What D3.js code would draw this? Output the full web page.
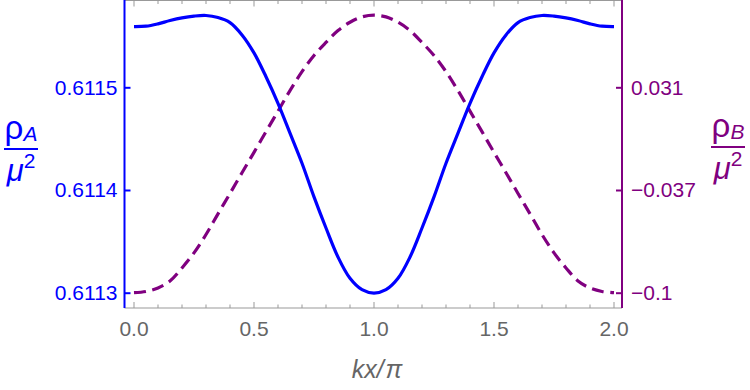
<!DOCTYPE html>
<html>
<head>
<meta charset="utf-8">
<script src="https://cdn.jsdelivr.net/npm/d3@7"></script>
<style>
  body { margin: 0; background: #fff; }
  svg { display: block; font-family: "Liberation Sans", Arial, sans-serif; }
</style>
</head>
<body>
<svg id="chart" width="750" height="390"></svg>
<script>
// kx/pi sample points
const kx = [0.0, 0.05, 0.1, 0.15, 0.2, 0.25, 0.3, 0.35, 0.4, 0.45, 0.5,
            0.55, 0.6, 0.65, 0.7, 0.75, 0.8, 0.85, 0.9, 0.95, 1.0,
            1.05, 1.1, 1.15, 1.2, 1.25, 1.3, 1.35, 1.4, 1.45, 1.5,
            1.55, 1.6, 1.65, 1.7, 1.75, 1.8, 1.85, 1.9, 1.95, 2.0];
// rho_A / mu^2 (solid blue, left axis)
const rhoA = [0.6115591, 0.6115595, 0.6115618, 0.6115650, 0.6115676, 0.6115693, 0.6115699,
              0.6115679, 0.6115630, 0.6115510, 0.6115335, 0.6115103, 0.6114844, 0.6114554,
              0.6114261, 0.6113933, 0.6113630, 0.6113347, 0.6113140, 0.6113029, 0.6112996,
              0.6113029, 0.6113140, 0.6113347, 0.6113630, 0.6113933, 0.6114261, 0.6114554,
              0.6114844, 0.6115103, 0.6115335, 0.6115510, 0.6115630, 0.6115679, 0.6115699,
              0.6115693, 0.6115676, 0.6115650, 0.6115618, 0.6115595, 0.6115591];
// rho_B / mu^2 (dashed purple, right axis)
const rhoB = [-0.1, -0.0992, -0.0970, -0.0925, -0.0842, -0.0746, -0.0629, -0.0497,
              -0.0367, -0.0235, -0.0105, 0.0027, 0.0158, 0.0289, 0.0410, 0.0513,
              0.0596, 0.0672, 0.0725, 0.0759, 0.0770, 0.0759, 0.0725, 0.0672,
              0.0596, 0.0513, 0.0410, 0.0289, 0.0158, 0.0027, -0.0105, -0.0235,
              -0.0367, -0.0497, -0.0629, -0.0746, -0.0842, -0.0925, -0.0970, -0.0992, -0.1];

const xTicks = [0, 0.5, 1.0, 1.5, 2.0];
const leftTicks = [0.6113, 0.6114, 0.6115];
const rightTicks = [-0.1, -0.0345, 0.031];
const rightTickLabels = ["\u22120.1", "\u22120.037", "0.031"];

const svg = d3.select("#chart");
const BLUE = "#0000ff";
const PURPLE = "#800080";
const GRAY = "#999999";
const TEXTGRAY = "#666666";

const plotLeft = 124.5, plotRight = 622, plotTop = 0.5, plotBottom = 308;

const x = d3.scaleLinear().domain([0, 2]).range([134, 614]);
const yA = d3.scaleLinear().domain([0.6113, 0.6115]).range([292.7, 87.3]);
const yB = d3.scaleLinear().domain([-0.1, 0.031]).range([292.7, 87.3]);

// frame: top and bottom gray lines with inward ticks
const minorX = d3.range(0, 2.0001, 0.1).map(d => +d.toFixed(1));

const bottomAxis = svg.append("g")
    .attr("transform", `translate(0, ${plotBottom})`);
bottomAxis.append("line")
    .attr("x1", plotLeft).attr("x2", plotRight)
    .attr("stroke", GRAY).attr("stroke-width", 1.2);
bottomAxis.selectAll("line.tick")
    .data(minorX)
    .join("line")
    .attr("class", "tick")
    .attr("x1", d => x(d)).attr("x2", d => x(d))
    .attr("y1", 0)
    .attr("y2", d => xTicks.includes(d) ? -6 : -3.5)
    .attr("stroke", GRAY).attr("stroke-width", 1);
bottomAxis.selectAll("text")
    .data(xTicks)
    .join("text")
    .attr("x", d => x(d))
    .attr("y", 28)
    .attr("text-anchor", "middle")
    .attr("font-size", 21)
    .attr("fill", TEXTGRAY)
    .text(d => d3.format(".1f")(d));

const topAxis = svg.append("g")
    .attr("transform", `translate(0, ${plotTop})`);
topAxis.append("line")
    .attr("x1", plotLeft).attr("x2", plotRight)
    .attr("stroke", GRAY).attr("stroke-width", 1.2);
topAxis.selectAll("line.tick")
    .data(minorX)
    .join("line")
    .attr("class", "tick")
    .attr("x1", d => x(d)).attr("x2", d => x(d))
    .attr("y1", 0)
    .attr("y2", d => xTicks.includes(d) ? 6 : 3.5)
    .attr("stroke", GRAY).attr("stroke-width", 1);

// left axis (blue)
const axisA = d3.axisLeft(yA)
    .tickValues(leftTicks)
    .tickFormat(d3.format(".4f"))
    .tickSizeInner(-6)
    .tickSizeOuter(0)
    .tickPadding(7);
const gA = svg.append("g")
    .attr("transform", `translate(${plotLeft}, 0)`)
    .call(axisA);
gA.select(".domain").remove();
gA.append("line")
    .attr("y1", 0).attr("y2", plotBottom)
    .attr("stroke", BLUE).attr("stroke-width", 2);
gA.selectAll(".tick line").attr("stroke", BLUE).attr("stroke-width", 2);
gA.selectAll(".tick text")
    .attr("fill", BLUE)
    .attr("font-size", 21)
    .attr("font-family", "Liberation Sans, Arial, sans-serif");

// right axis (purple)
const axisB = d3.axisRight(yB)
    .tickValues(rightTicks)
    .tickFormat((d, i) => rightTickLabels[i])
    .tickSizeInner(-6)
    .tickSizeOuter(0)
    .tickPadding(9);
const gB = svg.append("g")
    .attr("transform", `translate(${plotRight}, 0)`)
    .call(axisB);
gB.select(".domain").remove();
gB.append("line")
    .attr("y1", 0).attr("y2", plotBottom)
    .attr("stroke", PURPLE).attr("stroke-width", 2);
gB.selectAll(".tick line").attr("stroke", PURPLE).attr("stroke-width", 2);
gB.selectAll(".tick text")
    .attr("fill", PURPLE)
    .attr("font-size", 21)
    .attr("font-family", "Liberation Sans, Arial, sans-serif");

// curves
const ptsA = kx.map((k, i) => ({x: k, y: rhoA[i]}));
const ptsB = kx.map((k, i) => ({x: k, y: rhoB[i]}));

svg.append("path")
    .datum(ptsB)
    .attr("d", d3.line().x(d => x(d.x)).y(d => yB(d.y)).curve(d3.curveCatmullRom))
    .attr("fill", "none")
    .attr("stroke", PURPLE)
    .attr("stroke-width", 3.2)
    .attr("stroke-dasharray", "12,6.5");

svg.append("path")
    .datum(ptsA)
    .attr("d", d3.line().x(d => x(d.x)).y(d => yA(d.y)).curve(d3.curveCatmullRom))
    .attr("fill", "none")
    .attr("stroke", BLUE)
    .attr("stroke-width", 3.2);

// axis titles as fractions
function fraction(cx, cy, sub, color) {
    const g = svg.append("g").attr("fill", color);
    const num = g.append("text")
        .attr("x", cx).attr("y", cy - 10)
        .attr("text-anchor", "middle")
        .attr("font-size", 33);
    num.append("tspan").text("\u03c1");
    num.append("tspan")
        .attr("font-size", 21)
        .attr("font-style", "italic")
        .attr("dy", 2)
        .text(sub);
    g.append("line")
        .attr("x1", cx - 17).attr("x2", cx + 17)
        .attr("y1", cy).attr("y2", cy)
        .attr("stroke", color).attr("stroke-width", 2);
    const den = g.append("text")
        .attr("x", cx).attr("y", cy + 32)
        .attr("text-anchor", "middle")
        .attr("font-size", 31);
    den.append("tspan").attr("font-style", "italic").text("\u03bc");
    den.append("tspan")
        .attr("font-size", 21)
        .attr("dy", -13)
        .text("2");
}
fraction(21, 149, "A", BLUE);
fraction(728, 147, "B", PURPLE);

// x axis title
const xt = svg.append("text")
    .attr("x", 377)
    .attr("y", 378)
    .attr("text-anchor", "middle")
    .attr("font-size", 25)
    .attr("font-style", "italic")
    .attr("fill", TEXTGRAY);
xt.append("tspan").text("kx/");
xt.append("tspan").attr("dx", 2).text("\u03c0");
</script>
</body>
</html>
